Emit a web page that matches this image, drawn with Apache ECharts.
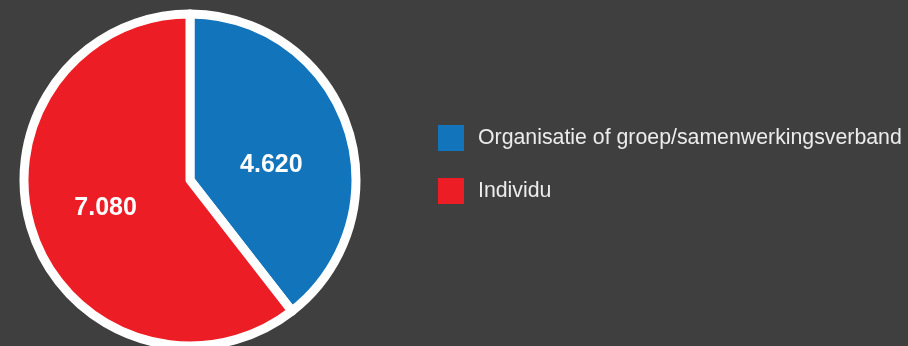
<!DOCTYPE html>
<html>
<head>
<meta charset="utf-8">
<style>
  html, body { margin: 0; padding: 0; background: #3f3f3f; }
  #chart { width: 908px; height: 346px; }
</style>
<script src="https://cdn.jsdelivr.net/npm/echarts@6/dist/echarts.min.js"></script>
</head>
<body>
<div id="chart"></div>
<script>
// Share of applicants by type
const categories = ['Organisatie of groep/samenwerkingsverband', 'Individu'];
const values = [4620, 7080];
const colors = ['#1274bb', '#ed1d25'];

const fmt = v => (v / 1000).toFixed(3);

// nudge the inside labels slightly from the default centroid point
const labelStyleFor = i => (i === 0 ? { offset: [0, 13] } : { offset: [-3, 0] });

const chart = echarts.init(document.getElementById('chart'), null, { renderer: 'canvas' });
chart.setOption({
  backgroundColor: '#3f3f3f',
  animation: false,
  legend: {
    orient: 'vertical',
    left: 433,
    top: 120,
    itemWidth: 26,
    itemHeight: 26,
    itemGap: 27,
    icon: 'rect',
    data: categories,
    itemStyle: { borderWidth: 0 },
    textStyle: {
      color: '#ececec',
      fontSize: 21.3,
      fontFamily: 'Liberation Sans, Arial, sans-serif',
      padding: [0, 0, 0, 9]
    }
  },
  series: [{
    type: 'pie',
    center: [190, 180],
    radius: [0, 166],
    startAngle: 90,
    clockwise: true,
    label: {
      show: true,
      position: 'inside',
      color: '#ffffff',
      fontSize: 25,
      fontWeight: 'bold',
      fontFamily: 'Liberation Sans, Arial, sans-serif',
      formatter: p => fmt(p.value)
    },
    labelLine: { show: false },
    itemStyle: { borderColor: '#ffffff', borderWidth: 9 },
    emphasis: { disabled: true },
    data: categories.map((name, i) => ({
      name,
      value: values[i],
      itemStyle: { color: colors[i] },
      label: labelStyleFor(i)
    }))
  }]
});
</script>
</body>
</html>
